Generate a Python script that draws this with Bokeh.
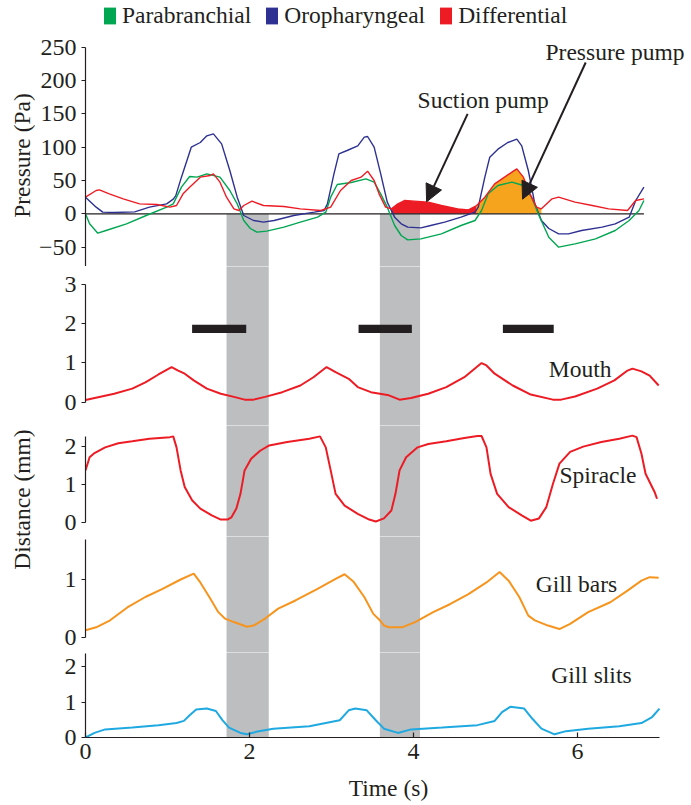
import numpy as np
from math import pi
from bokeh.plotting import figure
from bokeh.layouts import row, column
from bokeh.models import (Range1d, Label, Arrow, NormalHead,
                          Legend, LegendItem, FixedTicker)
from bokeh.embed import file_html
from bokeh.resources import INLINE

# ------------------------------------------------------------------ data
band_start = [1.72, 3.59]
band_end = [2.235, 4.08]

oro_t = [0, 0.13, 0.21, 0.35, 0.6, 0.78, 0.99, 1.07, 1.10, 1.17, 1.29, 1.40, 1.48, 1.56,
         1.66, 1.76, 1.85, 1.93, 2.05, 2.17, 2.30, 2.54, 2.79, 2.91, 2.95, 3.03, 3.09,
         3.19, 3.32, 3.40, 3.44, 3.52, 3.60, 3.68, 3.77, 3.85, 3.93, 4.09, 4.21, 4.38,
         4.58, 4.75, 4.79, 4.87, 4.93, 5.03, 5.15, 5.26, 5.32, 5.40, 5.48, 5.56, 5.65,
         5.77, 5.89, 6.05, 6.30, 6.46, 6.63, 6.71, 6.81]
oro_p = [25, 10, 2.5, 2, 3, 10, 15, 22, 27, 55, 100, 107, 117, 120,
         105, 65, 25, -2.5, -10, -12.5, -10, -2.5, 2.5, 5, 15, 60, 90,
         95, 102, 115, 116, 100, 60, 17.5, -5, -15, -20, -21, -17.5, -12.5,
         -5, 2.5, 10, 55, 85, 97, 107, 112, 102, 65, 15, -10, -22,
         -30, -30, -25, -20, -15, -5, 20, 40]

para_t = [0, 0.05, 0.15, 0.25, 0.5, 0.74, 0.99, 1.07, 1.17, 1.27, 1.36, 1.48, 1.64,
          1.76, 1.85, 1.93, 2.01, 2.09, 2.21, 2.42, 2.62, 2.83, 2.93, 2.99, 3.07, 3.24,
          3.42, 3.52, 3.60, 3.68, 3.77, 3.85, 3.93, 4.09, 4.34, 4.58, 4.75, 4.83, 4.91,
          5.03, 5.20, 5.34, 5.44, 5.54, 5.65, 5.77, 5.97, 6.22, 6.46, 6.63, 6.75, 6.81]
para_p = [0, -15, -29, -25, -15, -2.5, 10, 15, 40, 56, 55, 60, 55,
          35, 15, -10, -22, -27.5, -26, -20, -12.5, -5, 2.5, 25, 44, 47,
          52.5, 47.5, 30, 10, -17.5, -32.5, -39, -37.5, -30, -17.5, -10, 5, 30,
          42.5, 47.5, 42.5, 25, -5, -35, -50, -45, -37.5, -25, -10, 5, 20]

diff_t = [0, 0.13, 0.17, 0.29, 0.46, 0.66, 0.87, 1.03, 1.11, 1.19, 1.27, 1.40, 1.52,
          1.56, 1.64, 1.72, 1.81, 1.87, 1.93, 2.03, 2.17, 2.42, 2.62, 2.87, 2.99, 3.11,
          3.24, 3.36, 3.44, 3.52, 3.58, 3.66, 3.73, 3.81, 3.89, 4.01, 4.18, 4.34, 4.54,
          4.67, 4.77, 4.87, 4.99, 5.11, 5.20, 5.26, 5.34, 5.42, 5.50, 5.56, 5.69, 5.77,
          5.97, 6.18, 6.38, 6.61, 6.71, 6.81]
diff_p = [25, 35, 36, 30, 22.5, 15, 14, 10, 12.5, 30, 40, 55, 57.5,
          60, 47.5, 25, 7.5, 5, 12.5, 19, 12.5, 11, 7.5, 5, 10, 35,
          50, 55, 64, 50, 30, 10, 7.5, 15, 20, 19, 17.5, 12.5, 7.5,
          6, 12.5, 25, 45, 55, 62.5, 67.5, 55, 30, 10, 7.5, 22.5, 25,
          17.5, 12.5, 7.5, 5, 20, 22.5]

# suction pump from first edge to second, pressure pump from second to third
pump_edges = [3.73, 4.77, 5.56]

mouth_t = [0, 0.35, 0.57, 0.73, 0.89, 1.05, 1.13, 1.21, 1.32, 1.48, 1.65, 1.81, 1.94,
           2.05, 2.19, 2.40, 2.62, 2.78, 2.94, 3.05, 3.21, 3.32, 3.48, 3.70, 3.83, 3.97,
           4.18, 4.40, 4.62, 4.83, 4.89, 4.99, 5.21, 5.43, 5.70, 5.80, 5.97, 6.24, 6.45,
           6.61, 6.67, 6.78, 6.88, 6.99]
mouth_v = [0.05, 0.21, 0.34, 0.50, 0.70, 0.89, 0.80, 0.72, 0.55, 0.34, 0.21, 0.13, 0.06,
           0.06, 0.13, 0.25, 0.42, 0.63, 0.89, 0.76, 0.59, 0.38, 0.25, 0.17, 0.06, 0.10,
           0.21, 0.38, 0.63, 0.99, 0.93, 0.72, 0.42, 0.19, 0.06, 0.06, 0.14, 0.34, 0.55,
           0.80, 0.85, 0.78, 0.67, 0.42]

spir_t = [0, 0.05, 0.11, 0.24, 0.40, 0.57, 0.78, 1.03, 1.07, 1.11, 1.16, 1.21, 1.30,
          1.40, 1.54, 1.65, 1.73, 1.78, 1.84, 1.89, 1.94, 2.02, 2.13, 2.24, 2.46, 2.73,
          2.86, 2.93, 2.99, 3.05, 3.16, 3.32, 3.46, 3.54, 3.64, 3.73, 3.78, 3.83, 3.91,
          4.05, 4.18, 4.40, 4.62, 4.78, 4.83, 4.89, 4.94, 5.02, 5.16, 5.32, 5.43, 5.53,
          5.62, 5.70, 5.78, 5.91, 6.07, 6.29, 6.51, 6.67, 6.72, 6.78, 6.83, 6.94, 6.97]
spir_v = [1.37, 1.72, 1.83, 1.98, 2.09, 2.14, 2.21, 2.25, 2.27, 1.98, 1.37, 0.93, 0.58,
          0.36, 0.18, 0.07, 0.07, 0.13, 0.36, 0.75, 1.37, 1.68, 1.89, 2.03, 2.12, 2.21,
          2.27, 1.98, 1.37, 0.75, 0.44, 0.22, 0.07, 0.02, 0.10, 0.31, 0.75, 1.37, 1.72,
          1.98, 2.07, 2.14, 2.23, 2.28, 2.28, 1.98, 1.28, 0.75, 0.40, 0.18, 0.04, 0.10,
          0.40, 1.01, 1.55, 1.86, 2.00, 2.12, 2.21, 2.29, 2.25, 1.81, 1.28, 0.80, 0.62]

bars_t = [0, 0.13, 0.30, 0.51, 0.73, 0.94, 1.16, 1.32, 1.40, 1.51, 1.62, 1.70, 1.81,
          1.97, 2.05, 2.19, 2.35, 2.56, 2.83, 3.05, 3.16, 3.27, 3.40, 3.51, 3.59, 3.64,
          3.70, 3.86, 4.02, 4.24, 4.45, 4.67, 4.89, 5.05, 5.16, 5.29, 5.40, 5.48, 5.64,
          5.78, 5.91, 6.13, 6.40, 6.61, 6.78, 6.88, 6.99]
bars_v = [0.13, 0.18, 0.30, 0.52, 0.70, 0.84, 1.00, 1.10, 0.95, 0.70, 0.44, 0.33, 0.27,
          0.19, 0.21, 0.33, 0.50, 0.64, 0.84, 1.01, 1.09, 0.96, 0.70, 0.41, 0.30, 0.21,
          0.18, 0.18, 0.27, 0.44, 0.58, 0.75, 0.95, 1.13, 0.98, 0.70, 0.38, 0.30, 0.21,
          0.15, 0.24, 0.44, 0.61, 0.81, 0.98, 1.04, 1.03]

slits_t = [0, 0.11, 0.24, 0.57, 0.89, 1.11, 1.20, 1.27, 1.35, 1.48, 1.59, 1.67, 1.75,
           1.89, 1.97, 2.08, 2.29, 2.73, 3.10, 3.21, 3.29, 3.43, 3.54, 3.64, 3.81, 3.97,
           4.35, 4.78, 4.99, 5.08, 5.18, 5.35, 5.45, 5.56, 5.72, 5.86, 6.13, 6.51, 6.78,
           6.91, 7.0]
slits_v = [0, 0.13, 0.23, 0.28, 0.35, 0.41, 0.47, 0.63, 0.79, 0.82, 0.75, 0.49, 0.28,
           0.13, 0.09, 0.16, 0.25, 0.32, 0.49, 0.77, 0.82, 0.77, 0.49, 0.25, 0.13, 0.23,
           0.28, 0.35, 0.47, 0.72, 0.87, 0.82, 0.53, 0.25, 0.09, 0.18, 0.25, 0.32, 0.41,
           0.58, 0.82]

bar_start = [1.30, 3.33, 5.09]
bar_end = [1.96, 3.98, 5.71]
bar_level = [1.86, 1.86, 1.86]

pressure_ticks = [-50, 0, 50, 100, 150, 200, 250]
mouth_ticks = [0, 1, 2, 3]
spiracle_ticks = [0, 1, 2]
gillbar_ticks = [0, 1]
gillslit_ticks = [0, 1, 2]
time_ticks = [0, 2, 4, 6]

series_names = ["Parabranchial", "Oropharyngeal", "Differential"]

# ------------------------------------------------------------------ style
FONT = "Liberation Serif"
FS = "23.5px"
TICK_FS = "24px"
INK = "#231F20"
GRAY = "#BCBEC0"
GREEN = "#00A651"
BLUE = "#2E3192"
RED = "#ED1C24"
FILL_ORANGE = "#F6A41E"
LINE_ORANGE = "#F7941D"
CYAN = "#1FA9E1"

LEFT = 50
FRAME_W = 606
PX_PER_S = 82.0
X_END = FRAME_W / PX_PER_S


def style_axis(ax):
    ax.axis_line_color = INK
    ax.axis_line_width = 1.2
    ax.major_tick_line_color = INK
    ax.major_tick_line_width = 1.2
    ax.major_tick_out = 4
    ax.major_tick_in = 0
    ax.minor_tick_line_color = None
    ax.major_label_text_font = FONT
    ax.major_label_text_font_size = TICK_FS
    ax.major_label_text_color = INK
    ax.major_label_standoff = 5


def make_panel(height, y_start, y_end, ticks, bounds, bottom=False, band_top=None):
    p = figure(width=LEFT + FRAME_W, height=height,
               x_range=Range1d(0, X_END), y_range=Range1d(y_start, y_end),
               output_backend="svg", toolbar_location=None, tools="",
               x_axis_location="below" if bottom else None,
               min_border=0, min_border_left=LEFT, min_border_right=0,
               min_border_top=0, min_border_bottom=68 if bottom else 0)
    p.outline_line_color = None
    p.grid.visible = False
    ax = p.yaxis[0]
    ax.ticker = FixedTicker(ticks=ticks)
    ax.bounds = bounds
    style_axis(ax)
    span = y_end - y_start
    top = y_end + span if band_top is None else band_top
    p.quad(left=band_start, right=band_end, bottom=y_start - span, top=top,
           fill_color=GRAY, line_color=None, level="underlay")
    return p


def text_label(p, x, y, txt):
    p.add_layout(Label(x=x, y=y, text=txt, text_font=FONT, text_font_size=FS,
                       text_color=INK, text_baseline="middle", text_align="left"))


# ------------------------------------------------------------------ pressure panel
f1 = make_panel(266, -79, 320, pressure_ticks, (-79, 250), band_top=0)

dt = np.array(diff_t)
dp = np.array(diff_p)
m1 = (dt >= pump_edges[0]) & (dt <= pump_edges[1])
m2 = (dt >= pump_edges[1]) & (dt <= pump_edges[2])
f1.varea(x=dt[m1], y1=0, y2=dp[m1], fill_color=RED)
f1.varea(x=dt[m2], y1=0, y2=dp[m2], fill_color=FILL_ORANGE)
f1.line([oro_t[0], oro_t[-1]], [0, 0], line_color=INK, line_width=1.2)

r_oro = f1.line(oro_t, oro_p, line_color=BLUE, line_width=1.4)
r_para = f1.line(para_t, para_p, line_color=GREEN, line_width=1.4)
r_diff = f1.line(diff_t, diff_p, line_color=RED, line_width=1.4)

# legend swatches: invisible quads that give filled squares in the legend
sw = [f1.quad(left=[np.nan], right=[np.nan], top=[np.nan], bottom=[np.nan],
              fill_color=c, line_color=None) for c in (GREEN, BLUE, RED)]
legend = Legend(items=[LegendItem(label=n, renderers=[r], index=0)
                       for n, r in zip(series_names, sw)],
                orientation="horizontal", location=(17, 237),
                glyph_width=15, glyph_height=21, label_standoff=5, spacing=13,
                padding=0, margin=0, border_line_color=None, background_fill_alpha=0,
                label_text_font=FONT, label_text_font_size=FS, label_text_color=INK)
f1.add_layout(legend)

head_kw = dict(size=17, fill_color=INK, line_color=INK)
f1.add_layout(Arrow(x_start=4.66, y_start=150, x_end=4.16, y_end=18,
                    end=NormalHead(**head_kw), line_color=INK, line_width=2))
f1.add_layout(Arrow(x_start=6.10, y_start=227, x_end=5.33, y_end=22,
                    end=NormalHead(**head_kw), line_color=INK, line_width=2))
text_label(f1, 4.05, 171, "Suction pump")
text_label(f1, 5.61, 243, "Pressure pump")

# ------------------------------------------------------------------ distance panels
# mouth: 39.3 px per mm, zero 23.5 px above the panel bottom
f2 = make_panel(159, -23.5 / 39.3, 135.5 / 39.3, mouth_ticks, (0, 3))
f2.hbar(y=bar_level, left=bar_start, right=bar_end, height=0.21, fill_color=INK, line_color=None)
f2.line(mouth_t, mouth_v, line_color=RED, line_width=2)
text_label(f2, 5.65, 0.85, "Mouth")

# spiracle: 37.8 px per mm
f3 = make_panel(111, -14.3 / 37.8, 96.7 / 37.8, spiracle_ticks, (0, 2.27))
f3.line(spir_t, spir_v, line_color=RED, line_width=2)
text_label(f3, 5.78, 1.24, "Spiracle")

# gill bars: 58.3 px per mm
f4 = make_panel(116, -14.7 / 58.3, 101.3 / 58.3, gillbar_ticks, (0, 1.68))
f4.line(bars_t, bars_v, line_color=LINE_ORANGE, line_width=2)
text_label(f4, 5.49, 0.93, "Gill bars")

# gill slits: 35.3 px per mm
f5 = make_panel(153, 0, 85 / 35.3, gillslit_ticks, (0, 2.38), bottom=True)
f5.line(slits_t, slits_v, line_color=CYAN, line_width=2)
text_label(f5, 5.68, 1.76, "Gill slits")
xa = f5.xaxis[0]
style_axis(xa)
xa.ticker = FixedTicker(ticks=time_ticks)
xa.bounds = (0, 7)
xa.major_tick_in = 5
xa.major_tick_out = 0
xa.major_label_standoff = 6
xa.axis_label = "Time (s)"
xa.axis_label_text_font = FONT
xa.axis_label_text_font_size = FS
xa.axis_label_text_font_style = "normal"
xa.axis_label_text_color = INK
xa.axis_label_standoff = 13

# ------------------------------------------------------------------ side titles
lab = figure(width=35, height=805, x_range=Range1d(0, 35), y_range=Range1d(0, 805),
             x_axis_location=None, y_axis_location=None, min_border=0,
             output_backend="svg", toolbar_location=None, tools="")
lab.outline_line_color = None
lab.grid.visible = False
for txt, yy in (("Pressure (Pa)", 650), ("Distance (mm)", 306)):
    lab.add_layout(Label(x=21, y=yy, text=txt, angle=pi / 2, text_font=FONT,
                         text_font_size=FS, text_color=INK,
                         text_align="center", text_baseline="middle"))

layout = row(lab, column(f1, f2, f3, f4, f5))
open("out.html", "w").write(file_html(layout, INLINE))
